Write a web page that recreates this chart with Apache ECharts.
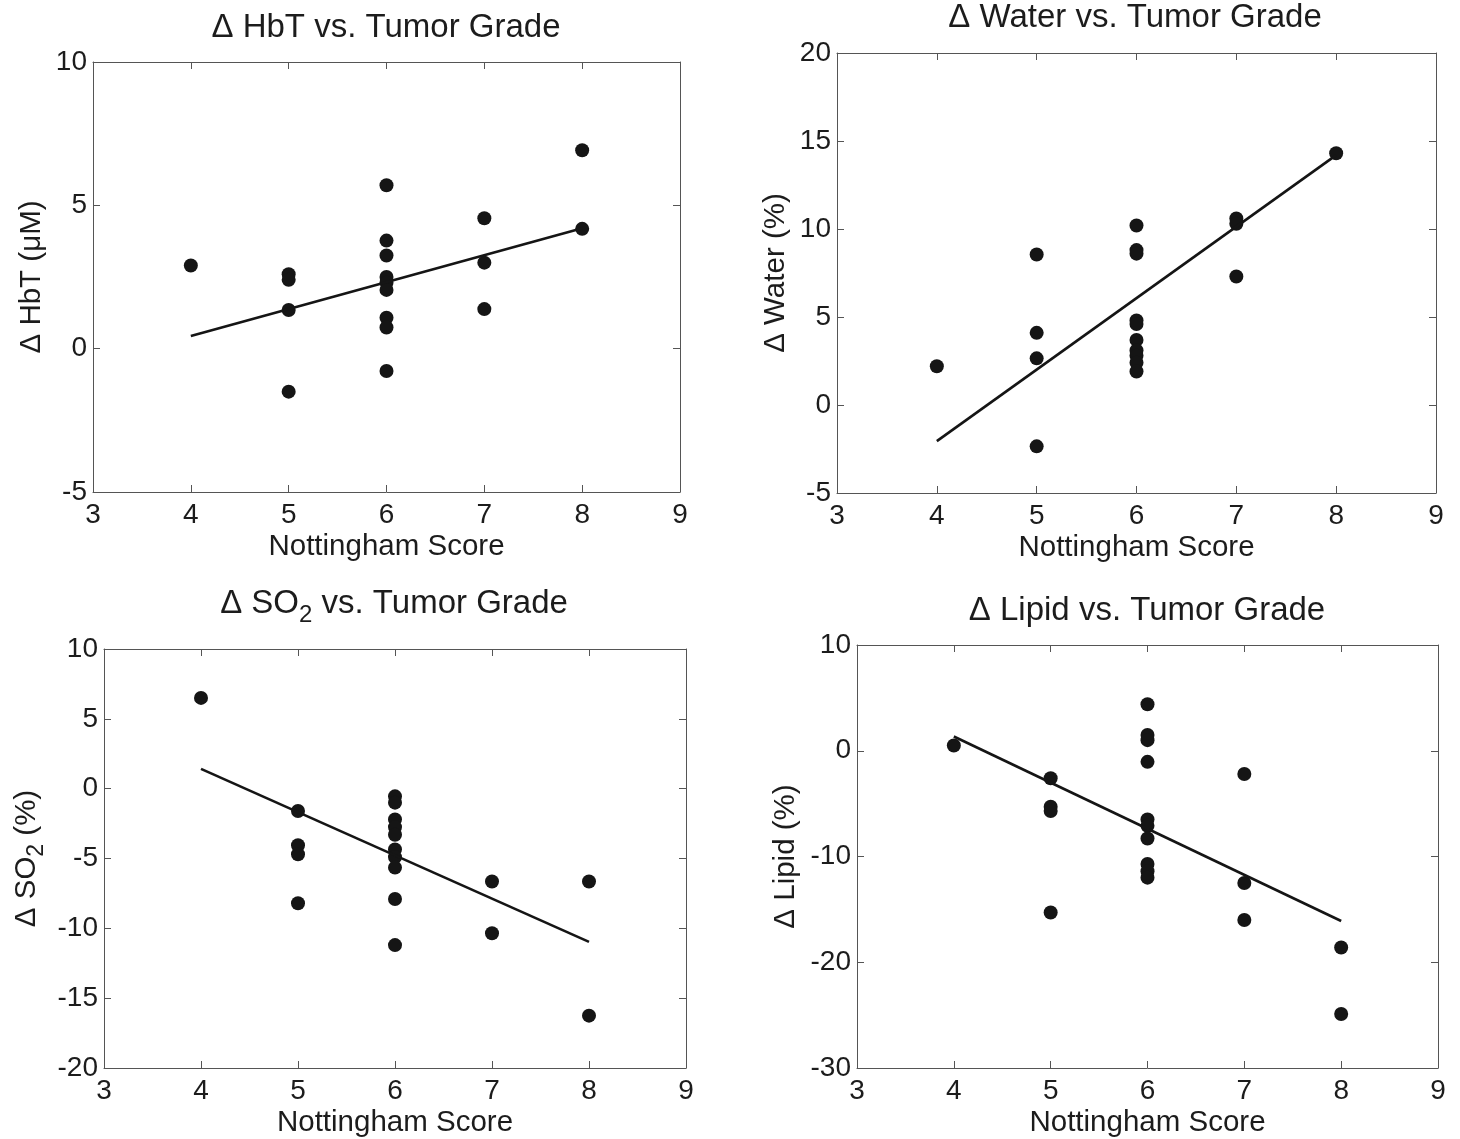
<!DOCTYPE html>
<html>
<head>
<meta charset="utf-8">
<title>Tumor Grade</title>
<script src="https://cdn.jsdelivr.net/npm/echarts@6/dist/echarts.min.js"></script>
<style>
  html, body { margin: 0; padding: 0; background: #fff; }
  #myEcharts { width: 1460px; height: 1139px; }
</style>
</head>
<body>
<div id="myEcharts"></div>
<script>
// x values (Nottingham score) and measured deltas for each panel
var scoreHbT = [4, 5, 5, 5, 5, 6, 6, 6, 6, 6, 6, 6, 6, 6, 7, 7, 7, 8, 8];
var hbtVals = [2.9, 2.6, 2.4, 1.35, -1.5, 5.7, 3.77, 3.25, 2.5, 2.3, 2.05, 1.08, 0.74, -0.78, 4.55, 3.0, 1.38, 6.92, 4.18];

var scoreWater = [4, 5, 5, 5, 5, 6, 6, 6, 6, 6, 6, 6, 6, 6, 6, 7, 7, 7, 8];
var waterVals = [2.2, 8.55, 4.1, 2.65, -2.35, 10.2, 8.8, 8.6, 4.8, 4.6, 3.7, 3.1, 2.8, 2.4, 1.9, 10.6, 10.3, 7.3, 14.3];

var scoreSO2 = [4, 5, 5, 5, 5, 6, 6, 6, 6, 6, 6, 6, 6, 6, 6, 7, 7, 8, 8];
var so2Vals = [6.5, -1.6, -4.05, -4.7, -8.2, -0.55, -1.0, -2.2, -2.75, -3.3, -4.35, -4.9, -5.65, -7.9, -11.2, -6.65, -10.35, -6.65, -16.25];

var scoreLipid = [4, 5, 5, 5, 5, 6, 6, 6, 6, 6, 6, 6, 6, 6, 6, 7, 7, 7, 8, 8];
var lipidVals = [0.5, -2.6, -5.3, -5.7, -15.3, 4.4, 1.5, 1.0, -1.05, -6.5, -7.1, -8.3, -10.7, -11.4, -12.0, -2.2, -12.5, -16.0, -18.6, -24.9];

// linear fit end points
var fitX = [4, 8];
var hbtFit = [0.44, 4.2];
var waterFit = [-2.05, 14.2];
var so2Fit = [1.42, -10.97];
var lipidFit = [1.35, -16.1];

// axis ranges [min, max, interval]
var xRange = [3, 9, 1];
var hbtRange = [-5, 10, 5];
var waterRange = [-5, 20, 5];
var so2Range = [-20, 10, 5];
var lipidRange = [-30, 10, 10];

var font = "Liberation Sans, Arial, sans-serif";
var ink = "#1c1c1c";

function pairs(xs, ys) {
  return xs.map(function (x, i) { return [x, ys[i]]; });
}

var panels = [
  { grid: { left: 93, top: 62, width: 587, height: 430 }, yr: hbtRange, yName: "Δ HbT (μM)", yGap: 46,
    sx: scoreHbT, sy: hbtVals, fy: hbtFit },
  { grid: { left: 837, top: 53, width: 599, height: 440 }, yr: waterRange, yName: "Δ Water (%)", yGap: 46,
    sx: scoreWater, sy: waterVals, fy: waterFit },
  { grid: { left: 104, top: 649, width: 582, height: 421 }, yr: so2Range, yName: "Δ SO{sub|2} (%)", yGap: 56,
    sx: scoreSO2, sy: so2Vals, fy: so2Fit },
  { grid: { left: 857, top: 645, width: 581, height: 426 }, yr: lipidRange, yName: "Δ Lipid (%)", yGap: 56,
    sx: scoreLipid, sy: lipidVals, fy: lipidFit }
];

var subRich = {
  sub: { fontSize: 23, fontFamily: font, color: ink, verticalAlign: "bottom", padding: [20, 0, 0, 0] }
};
var subRichTitle = {
  sub: { fontSize: 24, fontFamily: font, fill: ink, verticalAlign: "bottom", padding: [22, 0, 0, 0] }
};

var grids = [], xAxes = [], yAxes = [], series = [];
var axisColor = "#555";

panels.forEach(function (p, i) {
  grids.push(p.grid);
  var lineStyle = { onZero: false, show: true, lineStyle: { color: axisColor, width: 1 } };
  var tick = { show: true, inside: true, length: 7, lineStyle: { color: axisColor } };
  // bottom / left axes with labels, top / right only for the box ticks
  xAxes.push({
    type: "value", gridIndex: i, min: xRange[0], max: xRange[1], interval: xRange[2],
    position: "bottom", name: "Nottingham Score", nameLocation: "middle", nameGap: 40,
    nameTextStyle: { fontFamily: font, fontSize: 29.5, color: ink },
    axisLine: lineStyle, axisTick: tick,
    axisLabel: { fontFamily: font, fontSize: 28, color: ink, margin: 9 },
    splitLine: { show: false }
  });
  xAxes.push({
    type: "value", gridIndex: i, min: xRange[0], max: xRange[1], interval: xRange[2],
    position: "top", axisLine: lineStyle, axisTick: tick,
    axisLabel: { show: false }, splitLine: { show: false }
  });
  yAxes.push({
    type: "value", gridIndex: i, min: p.yr[0], max: p.yr[1], interval: p.yr[2],
    position: "left", name: p.yName, nameLocation: "middle", nameGap: p.yGap,
    nameTextStyle: { fontFamily: font, fontSize: 29.5, color: ink, rich: subRich },
    axisLine: lineStyle, axisTick: tick,
    axisLabel: { fontFamily: font, fontSize: 28, color: ink, margin: 6 },
    splitLine: { show: false }
  });
  yAxes.push({
    type: "value", gridIndex: i, min: p.yr[0], max: p.yr[1], interval: p.yr[2],
    position: "right", axisLine: lineStyle, axisTick: tick,
    axisLabel: { show: false }, splitLine: { show: false }
  });
  series.push({
    type: "scatter", xAxisIndex: i * 2, yAxisIndex: i * 2,
    data: pairs(p.sx, p.sy), symbol: "circle", symbolSize: 14,
    itemStyle: { color: "#151515", opacity: 1 }
  });
  series.push({
    type: "line", xAxisIndex: i * 2, yAxisIndex: i * 2,
    data: pairs(fitX, p.fy), showSymbol: false, symbol: "none",
    lineStyle: { color: "#151515", width: 2.6 }, z: 3
  });
});

function titleText(x, y, text) {
  return {
    type: "text", x: x, y: y,
    style: {
      text: text, fontFamily: font, fontSize: 33, fill: ink,
      align: "center", verticalAlign: "middle", rich: subRichTitle
    }
  };
}

var myEcharts = echarts.init(document.getElementById("myEcharts"));
myEcharts.setOption({
  animation: false,
  backgroundColor: "#fff",
  grid: grids,
  xAxis: xAxes,
  yAxis: yAxes,
  series: series,
  graphic: [
    titleText(386, 28, "Δ HbT vs. Tumor Grade"),
    titleText(1135, 18, "Δ Water vs. Tumor Grade"),
    titleText(394, 604, "Δ SO{sub|2} vs. Tumor Grade"),
    titleText(1147, 611, "Δ Lipid vs. Tumor Grade")
  ]
});
</script>
</body>
</html>
